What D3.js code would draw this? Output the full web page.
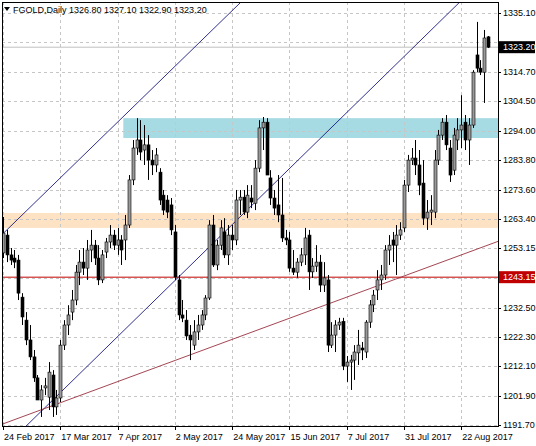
<!DOCTYPE html>
<html>
<head>
<meta charset="utf-8">
<script src="https://cdn.jsdelivr.net/npm/d3@7"></script>
<style>
  body { margin: 0; background: #fff; }
  svg text { font-family: "Liberation Sans", Arial, sans-serif; font-size: 9px; }
</style>
</head>
<body>
<svg id="chart" width="536" height="446"></svg>
<script>
// daily bars, index 0 = 24 Feb 2017
const opens = [1251.6,1257.8,1250.9,1249.8,1249.1,1236.2,1228.2,1221.3,1215.4,1208.1,1200.4,1204.6,1201.4,1209.1,1198.0,1201.1,1219.5,1226.5,1231.0,1235.2,
  1244.9,1248.4,1246.3,1252.6,1254.3,1249.8,1242.2,1251.9,1255.4,1257.8,1254.3,1256.1,1256.1,1261.3,1277.0,1288.1,1290.9,1287.4,1289.2,1283.9,
  1282.2,1279.7,1271.7,1270.0,1268.3,1258.9,1242.2,1230.0,1228.2,1223.0,1219.5,1224.1,1226.5,1230.0,1235.9,1261.3,1247.4,1254.3,1258.9,1250.9,
  1257.8,1256.1,1270.0,1271.0,1265.8,1270.7,1268.9,1281.1,1295.1,1297.1,1277.7,1270.7,1268.3,1264.8,1256.8,1256.1,1246.3,1244.9,1248.4,1250.9,
  1257.8,1245.0,1247.0,1248.4,1240.4,1242.2,1219.5,1223.0,1226.5,1227.8,1212.2,1213.6,1214.3,1216.8,1218.5,1217.1,1227.5,1233.5,1238.7,1242.2,
  1243.9,1252.6,1256.1,1254.3,1257.8,1260.3,1275.2,1283.9,1284.6,1282.2,1275.9,1263.7,1265.8,1265.8,1283.9,1292.6,1297.1,1288.1,1280.4,1290.9,
  1294.4,1297.1,1290.9,1296.1,1320.5,1315.9,1314.5,1326.8];
const highs = [1264.1,1259.6,1253.3,1252.6,1250.9,1237.6,1231.0,1226.5,1217.8,1209.1,1205.6,1208.1,1213.6,1210.8,1203.9,1221.3,1228.2,1233.4,1238.7,1247.4,
  1252.6,1253.3,1256.1,1259.6,1256.1,1254.3,1252.6,1256.8,1261.3,1259.6,1260.3,1257.8,1264.8,1278.7,1290.9,1298.5,1297.8,1296.1,1292.6,1287.4,
  1288.1,1281.1,1273.5,1271.7,1270.7,1261.3,1243.9,1235.2,1231.7,1226.5,1228.2,1230.0,1231.7,1236.9,1263.0,1264.8,1256.1,1263.0,1263.7,1261.3,
  1261.3,1273.5,1273.5,1273.5,1275.2,1275.2,1283.9,1297.8,1298.9,1298.5,1280.4,1273.5,1278.7,1277.7,1259.6,1258.9,1252.6,1249.8,1253.3,1260.3,
  1259.6,1249.8,1254.3,1250.9,1248.4,1243.9,1227.5,1228.2,1229.0,1229.0,1215.7,1216.1,1219.5,1224.8,1220.6,1228.2,1235.2,1238.7,1245.6,1247.4,
  1254.3,1257.8,1258.9,1261.3,1262.3,1277.0,1285.7,1288.1,1290.9,1287.4,1283.9,1270.0,1271.7,1287.4,1294.4,1298.5,1299.6,1290.9,1295.1,1298.5,
  1306.5,1299.6,1298.5,1315.2,1332.0,1318.7,1329.2,1327.1];
const lows = [1249.8,1248.4,1247.4,1246.3,1235.2,1226.5,1219.5,1214.3,1206.7,1200.7,1194.5,1202.1,1196.9,1194.5,1195.2,1199.7,1217.8,1223.0,1228.2,1233.4,
  1240.4,1243.9,1242.2,1248.4,1247.4,1240.4,1241.1,1249.8,1253.3,1252.6,1250.9,1247.4,1249.1,1260.3,1275.2,1285.7,1283.9,1282.2,1277.0,1278.7,
  1279.7,1268.3,1264.8,1263.7,1257.8,1242.2,1228.2,1227.5,1221.3,1214.3,1217.8,1221.3,1224.8,1228.2,1235.2,1246.7,1245.6,1252.6,1249.8,1247.4,
  1252.6,1254.3,1264.8,1264.8,1263.7,1267.2,1266.5,1279.7,1287.4,1279.0,1268.3,1264.8,1262.3,1255.4,1254.3,1245.0,1243.9,1242.9,1247.0,1247.4,
  1238.7,1242.9,1245.0,1238.0,1238.0,1217.1,1218.5,1217.1,1224.8,1210.8,1206.7,1203.9,1207.4,1212.6,1214.3,1215.0,1225.5,1231.0,1235.2,1238.7,
  1242.2,1247.4,1248.4,1243.9,1256.1,1258.9,1272.8,1282.2,1278.7,1271.7,1261.3,1259.6,1261.3,1263.7,1282.2,1290.9,1287.4,1276.3,1278.7,1287.4,
  1288.1,1287.4,1282.2,1295.1,1314.5,1313.5,1303.8,1322.9];
const closes = [1258.5,1250.9,1249.1,1248.4,1237.6,1229.3,1221.3,1215.4,1208.1,1200.4,1203.9,1205.3,1210.1,1198.0,1201.1,1219.5,1226.5,1230.0,1235.2,1244.9,
  1248.4,1246.3,1252.6,1254.3,1249.8,1242.2,1250.9,1255.4,1257.8,1254.3,1256.1,1252.6,1261.3,1277.0,1288.1,1290.9,1286.7,1289.2,1283.9,1282.2,
  1285.7,1270.0,1266.5,1265.8,1259.6,1243.2,1230.0,1228.9,1222.7,1221.3,1224.1,1226.5,1230.0,1235.9,1261.3,1247.4,1254.3,1260.3,1250.9,1257.8,
  1256.1,1270.0,1271.0,1265.8,1271.7,1269.3,1281.1,1295.1,1297.1,1278.7,1270.7,1267.2,1264.8,1256.8,1256.1,1246.3,1244.9,1248.4,1250.9,1256.8,
  1245.0,1247.0,1248.4,1240.4,1242.9,1219.5,1223.0,1226.5,1227.5,1212.2,1213.6,1214.3,1217.1,1219.5,1217.8,1227.5,1233.5,1236.9,1242.2,1243.9,
  1252.6,1254.3,1254.3,1257.8,1259.6,1275.2,1283.9,1284.6,1282.2,1275.2,1263.7,1265.8,1266.5,1283.9,1292.6,1297.1,1289.2,1278.7,1292.6,1294.4,
  1296.1,1290.9,1296.1,1314.5,1315.9,1314.5,1326.4,1323.2];

const dateLabels = ["24 Feb 2017","17 Mar 2017","7 Apr 2017","2 May 2017","24 May 2017","15 Jun 2017","7 Jul 2017","31 Jul 2017","22 Aug 2017"];
const dateIndex = [0,15,30,45,60,75,90,105,120];
const priceTicks = [1191.7,1201.9,1212.1,1222.3,1232.5,1253.15,1263.4,1273.6,1283.8,1294.0,1304.5,1314.7,1335.1];
const gridPrices = [1191.7,1201.9,1212.1,1222.3,1232.5,1242.7,1253.15,1263.4,1273.6,1283.8,1294.0,1304.5,1314.7,1324.9,1335.1];

const blueZone = [1291.6, 1298.5], blueZoneStart = 31.5;
const orangeZone = [1260.3, 1265.5], orangeZoneStart = 0;
const supportLevel = 1243.15;
const lastPrice = 1323.2;
// trend lines as [bar index, price] pairs
const upperChannel = [[1, 1259.6], [62, 1338.5]];
const lowerChannel = [[5.8, 1191.0], [119.6, 1338.9]];
const risingTrend = [[-0.8, 1191.7], [124.9, 1253.3]];

const Chart = {
  init() {
    const svg = d3.select('#chart');
    const L = 2, R = 498, T = 2, B = 426;
    const x = d3.scaleLinear().domain([0, 127]).range([3, 488]);
    const y = d3.scaleLinear().domain([1191.7, 1335.1]).range([425, 13]);

    svg.append('defs').append('clipPath').attr('id', 'clip')
      .append('rect').attr('x', L).attr('y', T).attr('width', R - L).attr('height', B - T);
    const plot = svg.append('g').attr('clip-path', 'url(#clip)');

    // zones
    plot.append('rect').attr('x', x(blueZoneStart)).attr('width', R - x(blueZoneStart))
      .attr('y', y(blueZone[1])).attr('height', y(blueZone[0]) - y(blueZone[1])).attr('fill', '#a6dbe3');
    plot.append('rect').attr('x', x(orangeZoneStart)).attr('width', R - x(orangeZoneStart))
      .attr('y', y(orangeZone[1])).attr('height', y(orangeZone[0]) - y(orangeZone[1])).attr('fill', '#fde3c4');

    // grid
    const dash = '3,3';
    plot.selectAll('line.hg').data(gridPrices).enter().append('line')
      .attr('x1', L).attr('x2', R).attr('y1', d => Math.round(y(d)) + 0.5).attr('y2', d => Math.round(y(d)) + 0.5)
      .attr('stroke', '#c6c6c6').attr('stroke-dasharray', dash);
    plot.selectAll('line.vg').data(dateIndex).enter().append('line')
      .attr('y1', T).attr('y2', B).attr('x1', d => Math.round(x(d)) + 0.5).attr('x2', d => Math.round(x(d)) + 0.5)
      .attr('stroke', '#c6c6c6').attr('stroke-dasharray', dash);

    // level lines
    plot.append('line').attr('x1', L).attr('x2', R).attr('y1', y(lastPrice)).attr('y2', y(lastPrice))
      .attr('stroke', '#c0c0c0');
    plot.append('line').attr('x1', L).attr('x2', R).attr('y1', y(supportLevel)).attr('y2', y(supportLevel))
      .attr('stroke', '#c00000');

    // trend lines, extended across the plot
    const extend = (pts, color) => {
      const [[i0, p0], [i1, p1]] = pts;
      const k = (p1 - p0) / (i1 - i0);
      const a = -2, b = 135;
      plot.append('line')
        .attr('x1', x(a)).attr('y1', y(p0 + k * (a - i0)))
        .attr('x2', x(b)).attr('y2', y(p0 + k * (b - i0)))
        .attr('stroke', color).attr('stroke-width', 0.9);
    };
    extend(upperChannel, '#1a1a80');
    extend(lowerChannel, '#1a1a80');
    extend(risingTrend, '#9a3040');

    // candles
    const idx = d3.range(opens.length);
    const c = plot.selectAll('g.c').data(idx).enter().append('g');
    c.append('line')
      .attr('x1', i => Math.round(x(i)) + 0.5).attr('x2', i => Math.round(x(i)) + 0.5)
      .attr('y1', i => y(highs[i])).attr('y2', i => y(lows[i]))
      .attr('stroke', '#000');
    c.append('rect')
      .attr('x', i => Math.round(x(i)) - 1)
      .attr('width', 3)
      .attr('y', i => y(Math.max(opens[i], closes[i])))
      .attr('height', i => Math.max(1, Math.abs(y(opens[i]) - y(closes[i]))))
      .attr('fill', i => closes[i] >= opens[i] ? '#9a9a9a' : '#000')
      .attr('stroke', '#000').attr('stroke-width', 0.6);

    // frame
    svg.append('rect').attr('x', L + 0.5).attr('y', T + 0.5).attr('width', R - L).attr('height', B - T)
      .attr('fill', 'none').attr('stroke', '#000');

    // price axis
    svg.selectAll('text.py').data(priceTicks).enter().append('text')
      .attr('x', 503).attr('y', d => y(d) + 3).text(d => d.toFixed(2));
    svg.selectAll('line.pt').data(gridPrices).enter().append('line')
      .attr('x1', R).attr('x2', R + 3).attr('y1', d => Math.round(y(d)) + 0.5).attr('y2', d => Math.round(y(d)) + 0.5)
      .attr('stroke', '#000');
    const tag = (v, bg) => {
      svg.append('rect').attr('x', R + 1).attr('y', y(v) - 6).attr('width', 36).attr('height', 12).attr('fill', bg);
      svg.append('text').attr('x', 503).attr('y', y(v) + 3).attr('fill', '#fff').text(v.toFixed(2));
    };
    tag(lastPrice, '#000');
    tag(supportLevel, '#c00000');

    // date axis
    svg.selectAll('line.dt').data(dateIndex).enter().append('line')
      .attr('x1', d => Math.round(x(d)) + 0.5).attr('x2', d => Math.round(x(d)) + 0.5)
      .attr('y1', B).attr('y2', B + 4).attr('stroke', '#000');
    svg.selectAll('text.dx').data(dateIndex).enter().append('text')
      .attr('x', d => x(d) + 1).attr('y', 440).text((d, i) => dateLabels[i]);

    // title
    svg.append('path').attr('d', 'M4,7 L10,7 L7,11 Z').attr('fill', '#000');
    svg.append('text').attr('x', 13).attr('y', 13)
      .text(`FGOLD,Daily  ${opens[127].toFixed(2)} ${highs[127].toFixed(2)} ${lows[127].toFixed(2)} ${closes[127].toFixed(2)}`);
  }
};

Chart.init();
</script>
</body>
</html>
